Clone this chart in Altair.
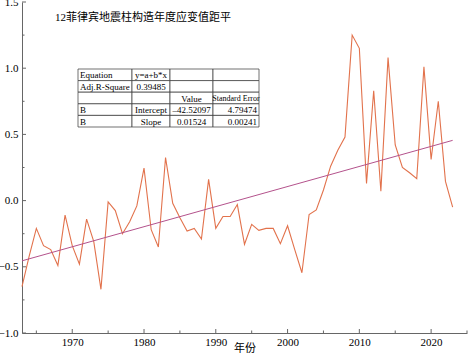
import altair as alt
import pandas as pd

# ---------------- data ----------------
years = list(range(1963, 2024))
values = [
    -0.65, -0.42, -0.21, -0.34, -0.37, -0.49, -0.11, -0.34, -0.48, -0.14,
    -0.31, -0.67, -0.01, -0.075, -0.25, -0.16, -0.04, 0.245, -0.22, -0.35,
    0.325, -0.02, -0.13, -0.23, -0.21, -0.29, 0.16, -0.21, -0.12, -0.12,
    -0.03, -0.33, -0.18, -0.225, -0.21, -0.21, -0.325, -0.19, -0.37, -0.545,
    -0.105, -0.07, 0.08, 0.26, 0.38, 0.48, 1.25, 1.15, 0.13, 0.83,
    0.07, 1.08, 0.42, 0.25, 0.21, 0.165, 1.01, 0.31, 0.75, 0.145,
    -0.05,
]
fit_years = [1963, 2023]
fit_values = [-0.455, 0.455]

x_major = [1970, 1980, 1990, 2000, 2010, 2020]
x_minor = [1965, 1975, 1985, 1995, 2005, 2015, 2025]
y_major = [-1.0, -0.5, 0.0, 0.5, 1.0, 1.5]
y_minor = [-0.75, -0.25, 0.25, 0.75, 1.25]

title_text = "12菲律宾地震柱构造年度应变值距平"
x_title = "年份"
table_rows = [
    ["Equation", "y=a+b*x", "", ""],
    ["Adj.R-Square", "0.39485", "", ""],
    ["", "", "Value", "Standard Error"],
    ["B", "Intercept", "\u201342.52097", "4.79474"],
    ["B", "Slope", "0.01524", "0.00241"],
]

# ---------------- layout ----------------
W, H = 445, 331
SERIF = "Liberation Serif"
CJK = "Liberation Serif, Noto Sans CJK SC"
LINE_COLOR = "#E2724C"
FIT_COLOR = "#B4528C"
AXIS_COLOR = "#666666"

col_edges = [56, 110, 148, 191, 237]
row_top, row_h = 67, 11.6

df = pd.DataFrame({"year": years, "value": values})
fit_df = pd.DataFrame({"year": fit_years, "value": fit_values})

xs = alt.Scale(domain=[1963, 2025], nice=False, zero=False)
ys = alt.Scale(domain=[-1.0, 1.5], nice=False, zero=False)

x_axis = alt.Axis(
    values=x_major, format="d", grid=False, tickSize=0, domainColor=AXIS_COLOR,
    labelFont=SERIF, labelFontSize=11, labelColor="black", labelPadding=3,
    title=x_title, titleFont="Noto Sans CJK SC", titleFontSize=11,
    titleFontWeight="normal", titleColor="black", titlePadding=-5,
)
y_axis = alt.Axis(
    values=y_major, format=".1f", grid=False, tickSize=0, domainColor=AXIS_COLOR,
    labelFont=SERIF, labelFontSize=11, labelColor="black", labelPadding=4,
    title="",
)

line = alt.Chart(df).mark_line(color=LINE_COLOR, strokeWidth=1.1).encode(
    x=alt.X("year:Q", scale=xs, axis=x_axis),
    y=alt.Y("value:Q", scale=ys, axis=y_axis),
)
fit = alt.Chart(fit_df).mark_line(color=FIT_COLOR, strokeWidth=1.0).encode(
    x=alt.X("year:Q", scale=xs), y=alt.Y("value:Q", scale=ys)
)

xt_major = alt.Chart(pd.DataFrame({"t": x_major})).mark_rule(color=AXIS_COLOR).encode(
    x=alt.X("t:Q", scale=xs), y=alt.value(H), y2=alt.value(H - 4)
)
xt_minor = alt.Chart(pd.DataFrame({"t": x_minor})).mark_rule(color=AXIS_COLOR).encode(
    x=alt.X("t:Q", scale=xs), y=alt.value(H), y2=alt.value(H - 2.5)
)
yt_major = alt.Chart(pd.DataFrame({"t": y_major})).mark_rule(color=AXIS_COLOR).encode(
    y=alt.Y("t:Q", scale=ys), x=alt.value(0), x2=alt.value(4)
)
yt_minor = alt.Chart(pd.DataFrame({"t": y_minor})).mark_rule(color=AXIS_COLOR).encode(
    y=alt.Y("t:Q", scale=ys), x=alt.value(0), x2=alt.value(2.5)
)

main = alt.layer(line, fit, xt_major, xt_minor, yt_major, yt_minor)

# ---------------- table (pixel positioned annotation) ----------------
cells = []
for r, row in enumerate(table_rows):
    for c, txt in enumerate(row):
        x0, x1 = col_edges[c], col_edges[c + 1]
        y0 = row_top + r * row_h
        cells.append({
            "x0": x0, "x1": x1, "y0": y0, "y1": y0 + row_h,
            "xl": x0 + 2, "xc": (x0 + x1) / 2, "xr": x1 - 2,
            "ym": y0 + row_h / 2 + 0.5, "txt": txt, "col": c, "row": r,
        })
cells_df = pd.DataFrame(cells)

FS = 9
rects = alt.Chart(cells_df).mark_rect(fill="white", stroke="#333333", strokeWidth=0.7).encode(
    x=alt.X("x0:Q", scale=None, axis=None), x2="x1:Q",
    y=alt.Y("y0:Q", scale=None, axis=None), y2="y1:Q",
)
txt_left = alt.Chart(cells_df).transform_filter("datum.col == 0").mark_text(
    align="left", baseline="middle", font=SERIF, fontSize=FS, color="black"
).encode(x=alt.X("xl:Q", scale=None, axis=None), y=alt.Y("ym:Q", scale=None, axis=None), text="txt:N")
txt_center = alt.Chart(cells_df).transform_filter("datum.col == 1 || datum.col == 2").mark_text(
    align="center", baseline="middle", font=SERIF, fontSize=FS, color="black"
).encode(x=alt.X("xc:Q", scale=None, axis=None), y=alt.Y("ym:Q", scale=None, axis=None), text="txt:N")
txt_right = alt.Chart(cells_df).transform_filter("datum.col == 3 && datum.row != 2").mark_text(
    align="right", baseline="middle", font=SERIF, fontSize=FS, color="black"
).encode(x=alt.X("xr:Q", scale=None, axis=None), y=alt.Y("ym:Q", scale=None, axis=None), text="txt:N")
txt_head = alt.Chart(cells_df).transform_filter("datum.col == 3 && datum.row == 2").mark_text(
    align="center", baseline="middle", font=SERIF, fontSize=8, color="black"
).encode(x=alt.X("xc:Q", scale=None, axis=None), y=alt.Y("ym:Q", scale=None, axis=None), text="txt:N")

table = alt.layer(rects, txt_left, txt_center, txt_right, txt_head)

title = alt.Chart(pd.DataFrame({"t": [title_text]})).mark_text(
    align="left", baseline="middle", font=CJK, fontSize=11, color="black"
).encode(x=alt.value(33), y=alt.value(16), text="t:N")

chart = alt.layer(main, table, title).resolve_scale(
    x="independent", y="independent"
).properties(
    width=W, height=H,
    autosize=alt.AutoSizeParams(type="none"),
    padding={"left": 22, "top": 2, "right": 1, "bottom": 22},
).configure_view(stroke=None)

chart.save("out.html", embed_options={"renderer": "svg", "actions": False})
